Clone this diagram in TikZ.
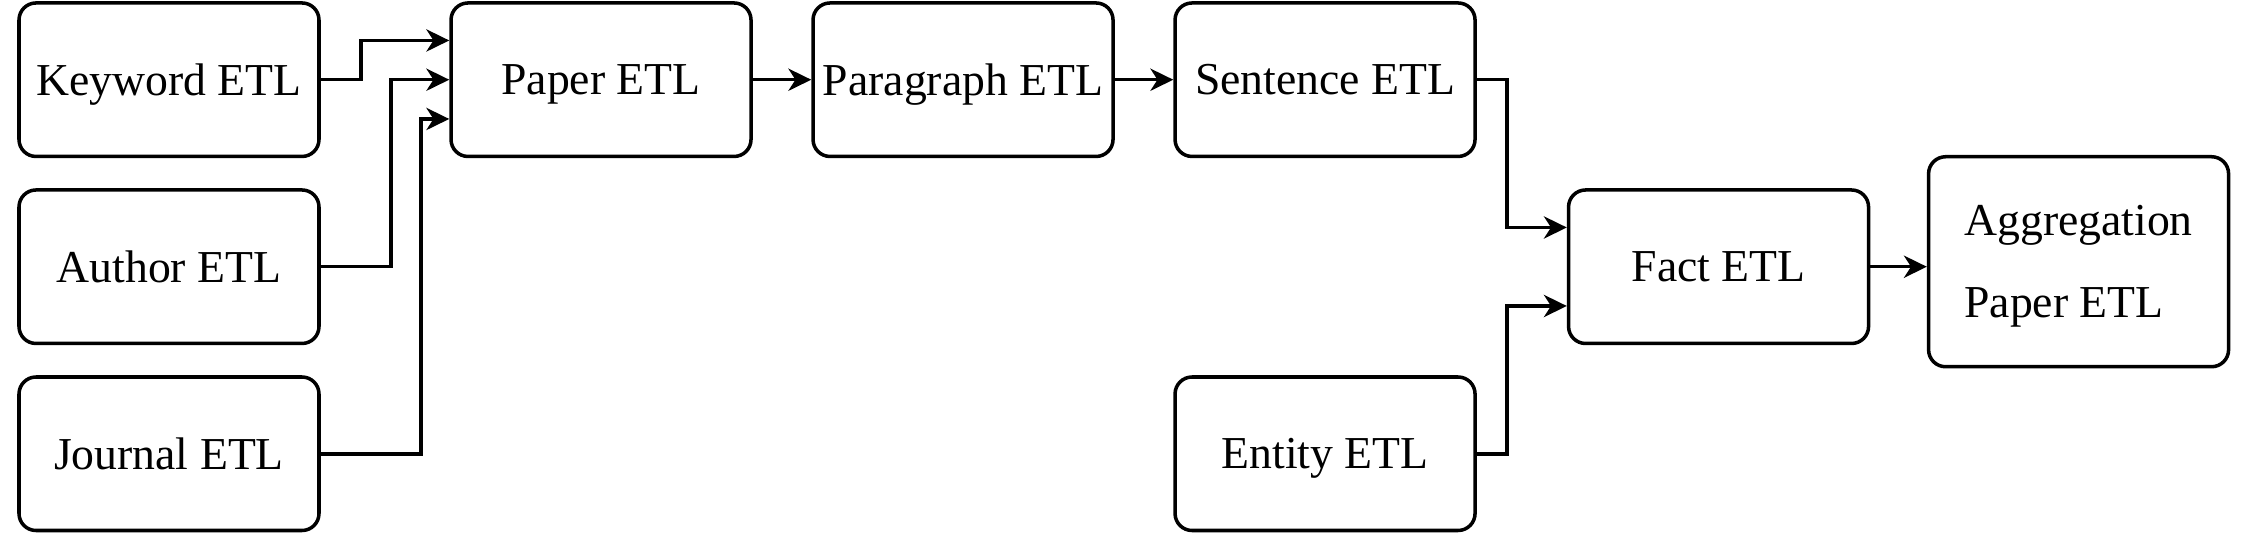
\documentclass[tikz,border=0pt]{standalone}
\usepackage{fontspec}
\setmainfont{Liberation Serif}
\usetikzlibrary{arrows.meta, calc, positioning}

\begin{document}
\begin{tikzpicture}[
    etl/.style={rectangle, rounded corners=0.17cm, draw=black, line width=1pt, inner xsep=1pt, text depth=0pt, minimum width=3cm, minimum height=1.535cm, align=left, font=\fontsize{13}{23.3}\selectfont},
    arrow/.style={-{Stealth[length=6.5pt, width=6.3pt, inset=2pt]}, line width=1pt}]
    \useasboundingbox (0,0) rectangle (22.51,-5.53);

    % source tables (left column)
    \node[etl] (keyword) at (1.69,-0.797) {Keyword ETL};
    \node[etl, below=0.3cm of keyword] (author) {Author ETL};
    \node[etl, below=0.3cm of author] (journal) {Journal ETL};

    % main chain
    \node[etl, right=1.285cm of keyword] (paper) {Paper ETL};
    \node[etl, right=0.585cm of paper] (paragraph) {Paragraph ETL};
    \node[etl, right=0.585cm of paragraph] (sentence) {Sentence ETL};
    \node[etl] (entity) at (sentence |- journal) {Entity ETL};
    \coordinate (factrow) at (sentence.east |- author);
    \node[etl, right=0.9cm of factrow] (fact) {Fact ETL};
    \node[etl, minimum height=2.1cm, right=0.565cm of fact, yshift=0.05cm] (agg) {Aggregation\\Paper ETL};

    \draw[arrow] (keyword.east) -- ++(0.4,0) |- ($(paper.north west)!0.25!(paper.south west)$);
    \draw[arrow] (author.east) -- ++(0.7,0) |- (paper.west);
    \draw[arrow] (journal.east) -- ++(1.0,0) |- ($(paper.north west)!0.75!(paper.south west)$);
    \draw[arrow] (paper) -- (paragraph);
    \draw[arrow] (paragraph) -- (sentence);
    \draw[arrow] (sentence.east) -- ++(0.3,0) |- ($(fact.north west)!0.25!(fact.south west)$);
    \draw[arrow] (entity.east) -- ++(0.3,0) |- ($(fact.north west)!0.75!(fact.south west)$);
    \draw[arrow] (fact.east) -- (agg.west |- fact.east);
\end{tikzpicture}
\end{document}
